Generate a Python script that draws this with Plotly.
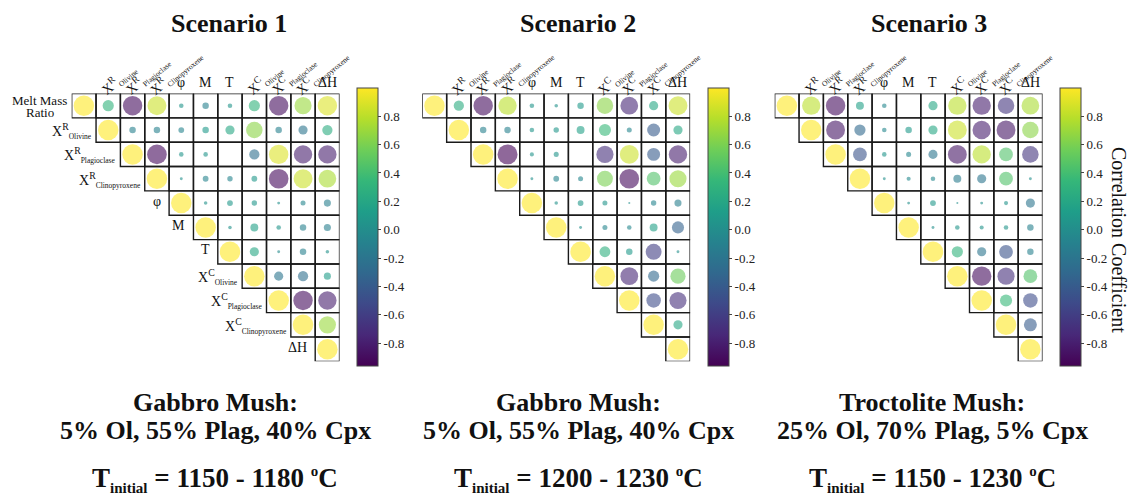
import numpy as np
import plotly.graph_objects as go

W, H = 1131, 503
FONT = "Liberation Serif"

# Variable labels (rows on the left of panel 1, columns on top of every panel)
row_labels = [
    "Melt Mass Ratio",
    ("X", "R", "Olivine"),
    ("X", "R", "Plagioclase"),
    ("X", "R", "Clinopyroxene"),
    "φ", "M", "T",
    ("X", "C", "Olivine"),
    ("X", "C", "Plagioclase"),
    ("X", "C", "Clinopyroxene"),
    "ΔH",
]
col_labels = row_labels[1:]

# Upper-triangular correlation coefficients, row i starts at the diagonal
scenario_1 = [
    [1.00, 0.30, -0.90, 0.85, 0.05, -0.10, 0.05, 0.30, -0.90, 0.70, 0.90],
    [1.00, -0.10, -0.10, -0.08, 0.10, 0.20, 0.65, -0.10, -0.20, 0.25],
    [1.00, -0.92, 0.05, 0.05, 0.00, -0.25, 0.90, -0.80, -0.80],
    [1.00, 0.02, -0.08, -0.07, 0.08, -0.92, 0.85, 0.75],
    [1.00, 0.03, 0.08, 0.07, 0.02, -0.06, -0.12],
    [1.00, 0.03, 0.15, 0.05, -0.10, -0.12],
    [1.00, 0.20, -0.02, -0.10, 0.03],
    [1.00, -0.20, -0.25, 0.12],
    [1.00, -0.90, -0.80],
    [1.00, 0.70],
    [1.00],
]
scenario_2 = [
    [1.00, 0.25, -0.90, 0.80, 0.05, 0.03, 0.10, 0.65, -0.75, 0.20, 0.85],
    [1.00, -0.10, -0.10, 0.05, 0.07, 0.15, 0.35, -0.06, -0.40, 0.20],
    [1.00, -0.95, 0.04, 0.06, 0.00, -0.70, 0.85, -0.40, -0.80],
    [1.00, 0.02, -0.08, -0.06, 0.60, -0.92, 0.45, 0.70],
    [1.00, 0.03, 0.08, 0.06, 0.01, -0.07, -0.12],
    [1.00, 0.02, -0.06, -0.05, 0.15, -0.35],
    [1.00, 0.28, 0.10, -0.60, 0.02],
    [1.00, -0.75, -0.30, 0.55],
    [1.00, -0.50, -0.70],
    [1.00, 0.20],
    [1.00],
]
scenario_3 = [
    [1.00, 0.80, -0.90, 0.15, -0.05, 0.00, 0.20, 0.80, -0.80, -0.65, 0.75],
    [1.00, -0.85, -0.30, -0.05, 0.10, 0.20, 0.85, -0.80, -0.85, 0.65],
    [1.00, -0.45, 0.05, -0.06, -0.20, -0.85, 0.80, 0.45, -0.65],
    [1.00, 0.02, -0.04, -0.05, -0.15, -0.20, 0.45, 0.02],
    [1.00, 0.02, 0.08, 0.01, 0.02, 0.04, -0.20],
    [1.00, 0.02, 0.05, 0.04, 0.05, -0.10],
    [1.00, 0.30, -0.20, -0.45, -0.10],
    [1.00, -0.90, -0.70, 0.45],
    [1.00, 0.35, -0.50],
    [1.00, -0.40],
    [1.00],
]

titles = ["Scenario 1", "Scenario 2", "Scenario 3"]
mush_names = ["Gabbro Mush:", "Gabbro Mush:", "Troctolite Mush:"]
mush_modes = ["5% Ol, 55% Plag, 40% Cpx", "5% Ol, 55% Plag, 40% Cpx",
              "25% Ol, 70% Plag, 5% Cpx"]
t_ranges = ["1150 - 1180", "1200 - 1230", "1150 - 1230"]

scenarios = [scenario_1, scenario_2, scenario_3]

# Layout geometry (pixels)
n = len(row_labels)
grid_left = [71.7, 422.3, 774.7]
grid_top = 93.5
cell = 24.35
grid_size = cell * n
cb_left = [356.7, 707.7, 1060.0]
cb_top, cb_bottom = 87.7, 366.0
title_x = [229, 578, 929]
caption_x = [215, 578, 932]
max_diam = 20.5
c_min, c_max = -0.96, 1.0


def px(x):
    return x / W


def py(y):
    return 1 - y / H


def sub_label(big, sup, sub):
    return (f"{big}<sup>{sup}</sup>"
            f"<sub><span style='font-size:7.5px'>{sub}</span></sub>")


fig = go.Figure()
shapes = []
annotations = []

for p, mat in enumerate(scenarios):
    sfx = "" if p == 0 else str(p + 1)
    xs, ys, vals = [], [], []
    for i, row in enumerate(mat):
        for k, r in enumerate(row):
            xs.append(i + k)
            ys.append(i)
            vals.append(r)
    vals = np.array(vals)
    fig.add_trace(go.Scatter(
        x=xs, y=ys, mode="markers",
        xaxis="x" + sfx, yaxis="y" + sfx,
        marker=dict(
            size=max_diam * np.sqrt(np.abs(vals)),
            color=vals, coloraxis="coloraxis" + sfx,
            opacity=0.6, line=dict(width=0),
        ),
        hovertemplate="r = %{marker.color:.2f}<extra></extra>",
        showlegend=False,
    ))

    # cell outlines
    for i in range(n):
        for j in range(i, n):
            shapes.append(dict(
                type="rect", xref="x" + sfx, yref="y" + sfx,
                x0=j - 0.5, x1=j + 0.5, y0=i - 0.5, y1=i + 0.5,
                line=dict(color="#1a1a1a", width=1.4), layer="above",
            ))

    x0 = grid_left[p]
    fig.update_layout(**{
        "xaxis" + sfx: dict(domain=[px(x0), px(x0 + grid_size)],
                            range=[-0.5, n - 0.5], visible=False,
                            anchor="y" + sfx),
        "yaxis" + sfx: dict(domain=[py(grid_top + grid_size), py(grid_top)],
                            range=[n - 0.5, -0.5], visible=False,
                            anchor="x" + sfx),
        "coloraxis" + sfx: dict(
            colorscale="Viridis", cmin=c_min, cmax=c_max,
            colorbar=dict(
                x=px(cb_left[p]), xanchor="left", xpad=0, ypad=0,
                y=py((cb_top + cb_bottom) / 2), yanchor="middle",
                len=(cb_bottom - cb_top) / H, lenmode="fraction",
                thickness=20.5, thicknessmode="pixels",
                outlinewidth=1, outlinecolor="#444",
                tickvals=[-0.8, -0.6, -0.4, -0.2, 0.0, 0.2, 0.4, 0.6, 0.8],
                ticktext=["-0.8", "-0.6", "-0.4", "-0.2", "0.0",
                          "0.2", "0.4", "0.6", "0.8"],
                ticks="outside", ticklen=3, tickwidth=1, tickcolor="#444",
                tickfont=dict(family=FONT, size=13, color="#222"),
            ),
        ),
    })

    # column labels along the top
    for j, lab in enumerate(col_labels, start=1):
        cx = x0 + cell * (j + 0.5)
        if isinstance(lab, tuple):
            annotations.append(dict(
                x=px(cx - 14), y=py(grid_top + 9), xref="paper", yref="paper",
                xanchor="left", yanchor="bottom", textangle=-40,
                text=sub_label(*lab),
                showarrow=False, font=dict(family=FONT, size=14, color="#111"),
            ))
        else:
            annotations.append(dict(
                x=px(cx), y=py(grid_top - 1), xref="paper", yref="paper",
                xanchor="center", yanchor="bottom", text=lab,
                showarrow=False, font=dict(family=FONT, size=14, color="#111"),
            ))

    # titles and captions
    annotations.append(dict(
        x=px(title_x[p]), y=py(23), xref="paper", yref="paper",
        xanchor="center", yanchor="middle", text=f"<b>{titles[p]}</b>",
        showarrow=False, font=dict(family=FONT, size=26, color="#111"),
    ))
    annotations.append(dict(
        x=px(caption_x[p]), y=py(402), xref="paper", yref="paper",
        xanchor="center", yanchor="middle", text=f"<b>{mush_names[p]}</b>",
        showarrow=False, font=dict(family=FONT, size=26, color="#111"),
    ))
    annotations.append(dict(
        x=px(caption_x[p]), y=py(430), xref="paper", yref="paper",
        xanchor="center", yanchor="middle", text=f"<b>{mush_modes[p]}</b>",
        showarrow=False, font=dict(family=FONT, size=26, color="#111"),
    ))
    annotations.append(dict(
        x=px(caption_x[p]), y=py(479), xref="paper", yref="paper",
        xanchor="center", yanchor="middle",
        text=(f"<b>T<sub><span style='font-size:15px'>initial</span></sub>"
              f" = {t_ranges[p]} <sup><span style='font-size:15px'>o</span></sup>C</b>"),
        showarrow=False, font=dict(family=FONT, size=27, color="#111"),
    ))

# row labels on the first panel
x0 = grid_left[0]
for i, lab in enumerate(row_labels):
    cx_left = x0 + cell * i
    cy = grid_top + cell * (i + 0.5)
    if i == 0:
        for txt, yy in (("Melt Mass", cy - 5.5), ("Ratio", cy + 7)):
            annotations.append(dict(
                x=px(39.5), y=py(yy), xref="paper", yref="paper",
                xanchor="center", yanchor="middle", text=txt,
                showarrow=False, font=dict(family=FONT, size=13, color="#111"),
            ))
    elif isinstance(lab, tuple):
        annotations.append(dict(
            x=px(cx_left - 2), y=py(cy + 1), xref="paper", yref="paper",
            xanchor="right", yanchor="middle", text=sub_label(*lab),
            showarrow=False, font=dict(family=FONT, size=14, color="#111"),
        ))
    else:
        annotations.append(dict(
            x=px(cx_left - 6), y=py(cy - 2), xref="paper", yref="paper",
            xanchor="right", yanchor="middle", text=lab,
            showarrow=False, font=dict(family=FONT, size=14, color="#111"),
        ))

# colour bar title on the last panel
annotations.append(dict(
    x=px(1119), y=py(240), xref="paper", yref="paper",
    xanchor="center", yanchor="middle", textangle=90,
    text="Correlation Coefficient", showarrow=False,
    font=dict(family=FONT, size=20, color="#111"),
))

fig.update_layout(
    width=W, height=H,
    margin=dict(l=0, r=0, t=0, b=0),
    paper_bgcolor="white", plot_bgcolor="white",
    shapes=shapes, annotations=annotations,
    showlegend=False,
)

fig.write_html("out.html")
